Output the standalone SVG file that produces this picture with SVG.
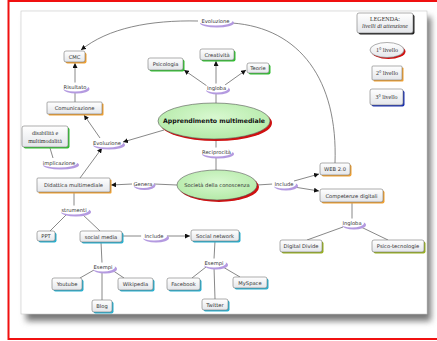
<svg xmlns="http://www.w3.org/2000/svg" width="437" height="341" viewBox="0 0 437 341">
<defs>
<filter id="blur" x="-10%" y="-10%" width="120%" height="130%"><feGaussianBlur stdDeviation="3"/></filter>
<linearGradient id="boxg" x1="0" y1="0" x2="0" y2="1"><stop offset="0" stop-color="#ffffff"/><stop offset="1" stop-color="#e4e6ea"/></linearGradient>
<radialGradient id="ellg" cx="0.5" cy="0.4" r="0.6"><stop offset="0" stop-color="#d8f8d0"/><stop offset="1" stop-color="#b4eaa8"/></radialGradient>
<marker id="arr" viewBox="0 0 10 10" refX="10" refY="5" markerWidth="5" markerHeight="5" markerUnits="userSpaceOnUse" orient="auto"><path d="M0,0 L10,5 L0,10 z" fill="#111"/></marker>
</defs>
<style>
.t{font-family:"DejaVu Sans",sans-serif;font-size:5.2px;fill:#333;text-anchor:middle;dominant-baseline:central}
.s{font-family:"Liberation Serif",serif;font-size:6px;fill:#333;text-anchor:middle;dominant-baseline:central}
.b{font-family:"DejaVu Sans",sans-serif;font-size:6.2px;font-weight:bold;fill:#111;text-anchor:middle;dominant-baseline:central}
.box{fill:url(#boxg);stroke:#777;stroke-width:0.6}
.or{fill:#f0a030}.gr{fill:#30c030}.cy{fill:#28b0d0}.ol{fill:#98b020}.bl{fill:#1a30b0}.bk{fill:#222}.rd{fill:#d01010}
.lw{fill:#fff}.lp{fill:#b49ae0}
#connectors path{fill:none;stroke:#6a6a6a;stroke-width:0.8}
</style>
<rect x="0" y="0" width="437" height="341" fill="#fff"/>
<rect x="8.5" y="1" width="440" height="338" fill="none" stroke="#f01010" stroke-width="2"/>
<rect x="26" y="17" width="405" height="304" fill="#777" filter="url(#blur)"/>
<rect x="21" y="11" width="406" height="303" fill="#fff" stroke="#c8c8c8" stroke-width="0.6"/>

<g id="connectors">
<path d="M198,21 C150,20 108,28 81,50" marker-end="url(#arr)"/>
<path d="M232,23 C300,28 338,80 335,163"/>
<path d="M75,84 L75,63" marker-end="url(#arr)"/>
<path d="M75,102 L75,91"/>
<path d="M100,138 L84,115" marker-end="url(#arr)"/>
<path d="M164,130 L123,142" marker-end="url(#arr)"/>
<path d="M80,178 L102,148" marker-end="url(#arr)"/>
<path d="M50,148 L53,158"/>
<path d="M207,86 L184,70" marker-end="url(#arr)"/>
<path d="M216,84 L216,61" marker-end="url(#arr)"/>
<path d="M225,85 L246,70" marker-end="url(#arr)"/>
<path d="M216,103 L216,92"/>
<path d="M216,139 L216,148"/>
<path d="M216,156 L216,170"/>
<path d="M177,185 L154,184"/>
<path d="M132,184 L111,185" marker-end="url(#arr)"/>
<path d="M257,185 L273,184"/>
<path d="M294,181 L319,174" marker-end="url(#arr)"/>
<path d="M294,187 L319,191" marker-end="url(#arr)"/>
<path d="M352,202 L352,219"/>
<path d="M343,227 L307,240"/>
<path d="M361,227 L388,240"/>
<path d="M74,192 L74,206"/>
<path d="M67,214 L50,231"/>
<path d="M82,214 L100,231"/>
<path d="M122,236 L142,236"/>
<path d="M166,236 L190,236" marker-end="url(#arr)"/>
<path d="M101,242 L102,263"/>
<path d="M94,270 L80,278"/>
<path d="M112,270 L124,278"/>
<path d="M102,271 L102,300"/>
<path d="M215,241 L214,259"/>
<path d="M206,267 L192,278"/>
<path d="M223,267 L240,277"/>
<path d="M214,267 L215,299"/>
</g>

<g id="lbl-evoluzione-top"><ellipse class="lp" cx="217" cy="23" rx="17" ry="4.5"/><ellipse class="lw" cx="215.5" cy="21" rx="17" ry="4.5"/><text class="t" x="215.5" y="21">Evoluzione</text></g>
<g id="lbl-risultato"><ellipse class="lp" cx="76.5" cy="89" rx="13" ry="4.5"/><ellipse class="lw" cx="75" cy="87" rx="13" ry="4.5"/><text class="t" x="75" y="87">Risultato</text></g>
<g id="lbl-ingloba"><ellipse class="lp" cx="218" cy="90" rx="12" ry="4.5"/><ellipse class="lw" cx="216.5" cy="88" rx="12" ry="4.5"/><text class="t" x="216.5" y="88">Ingloba</text></g>
<g id="lbl-evoluzione-mid"><ellipse class="lp" cx="109" cy="145" rx="16" ry="4.5"/><ellipse class="lw" cx="107" cy="143" rx="16" ry="4.5"/><text class="t" x="107" y="143">Evoluzione</text></g>
<g id="lbl-reciprocita"><ellipse class="lp" cx="218" cy="154" rx="16" ry="4.5"/><ellipse class="lw" cx="216.5" cy="152" rx="16" ry="4.5"/><text class="t" x="216.5" y="152">Reciprocità</text></g>
<g id="lbl-genera"><ellipse class="lp" cx="144.5" cy="185.5" rx="11" ry="4.5"/><ellipse class="lw" cx="143" cy="183.5" rx="11" ry="4.5"/><text class="t" x="143" y="183.5">Genera</text></g>
<g id="lbl-implicazione"><ellipse class="lp" cx="61" cy="165" rx="18" ry="4.5"/><ellipse class="lw" cx="59" cy="163" rx="18" ry="4.5"/><text class="t" x="59" y="163">implicazione</text></g>
<g id="lbl-strumenti"><ellipse class="lp" cx="76" cy="212" rx="15" ry="4.5"/><ellipse class="lw" cx="74" cy="210" rx="15" ry="4.5"/><text class="t" x="74" y="210">strumenti</text></g>
<g id="lbl-include-r"><ellipse class="lp" cx="286" cy="186" rx="12" ry="4.5"/><ellipse class="lw" cx="284" cy="184" rx="12" ry="4.5"/><text class="t" x="284" y="184">Include</text></g>
<g id="lbl-include-b"><ellipse class="lp" cx="156" cy="238" rx="13" ry="4.5"/><ellipse class="lw" cx="154" cy="236" rx="13" ry="4.5"/><text class="t" x="154" y="236">Include</text></g>
<g id="lbl-esempi-l"><ellipse class="lp" cx="105" cy="269" rx="12" ry="4.5"/><ellipse class="lw" cx="103" cy="267" rx="12" ry="4.5"/><text class="t" x="103" y="267">Esempi</text></g>
<g id="lbl-esempi-r"><ellipse class="lp" cx="216" cy="265" rx="12" ry="4.5"/><ellipse class="lw" cx="214" cy="263" rx="12" ry="4.5"/><text class="t" x="214" y="263">Esempi</text></g>
<g id="lbl-ingloba-r"><ellipse class="lp" cx="354" cy="225" rx="12" ry="4.5"/><ellipse class="lw" cx="352" cy="223" rx="12" ry="4.5"/><text class="t" x="352" y="223">Ingloba</text></g>

<g id="n-apprendimento"><ellipse class="rd" cx="216" cy="123" rx="56" ry="18"/><ellipse cx="214" cy="121" rx="56" ry="18" fill="url(#ellg)" stroke="#555" stroke-width="0.6"/><text class="b" x="214" y="120">Apprendimento multimediale</text></g>
<g id="n-societa"><ellipse class="rd" cx="219" cy="187" rx="40" ry="15"/><ellipse cx="217" cy="185" rx="40" ry="15" fill="url(#ellg)" stroke="#555" stroke-width="0.6"/><text class="t" x="217" y="185">Società della conoscenza</text></g>

<g id="n-cmc"><rect class="or" x="65.5" y="52.5" width="21" height="11" rx="2"/><rect class="box" x="64" y="51" width="21" height="11" rx="2"/><text class="t" x="74.5" y="56.5">CMC</text></g>
<g id="n-comunicazione"><rect class="or" x="48.5" y="103.5" width="55" height="12" rx="1"/><rect class="box" x="47" y="102" width="55" height="12" rx="1"/><text class="t" x="74.5" y="108">Comunicazione</text></g>
<g id="n-didattica"><rect class="or" x="38.5" y="179.5" width="73" height="14" rx="1"/><rect class="box" x="37" y="178" width="73" height="14" rx="1"/><text class="t" x="73.5" y="185">Didattica multimediale</text></g>
<g id="n-web"><rect class="or" x="321.5" y="164.5" width="30" height="12" rx="2"/><rect class="box" x="320" y="163" width="30" height="12" rx="2"/><text class="t" x="335" y="169">WEB 2.0</text></g>
<g id="n-competenze"><rect class="or" x="321.5" y="190.5" width="63" height="13" rx="2"/><rect class="box" x="320" y="189" width="63" height="13" rx="2"/><text class="t" x="351.5" y="195.5">Competenze digitali</text></g>
<g id="n-psicologia"><rect class="gr" x="149.5" y="59.5" width="35" height="12" rx="2"/><rect class="box" x="148" y="58" width="35" height="12" rx="2"/><text class="t" x="165.5" y="64">Psicologia</text></g>
<g id="n-creativita"><rect class="gr" x="201.5" y="50.5" width="34" height="11" rx="2"/><rect class="box" x="200" y="49" width="34" height="11" rx="2"/><text class="t" x="217" y="54.5">Creatività</text></g>
<g id="n-teorie"><rect class="gr" x="248.5" y="64.5" width="22" height="10" rx="2"/><rect class="box" x="247" y="63" width="22" height="10" rx="2"/><text class="t" x="258" y="68">Teorie</text></g>
<g id="n-disabilita"><rect class="gr" x="23.5" y="127.5" width="46" height="21" rx="2"/><rect class="box" x="22" y="126" width="46" height="21" rx="2"/><text class="s" x="45" y="133">disabilità e</text><text class="s" x="45" y="140.5">multimodalità</text></g>
<g id="n-digital"><rect class="ol" x="281.5" y="241.5" width="42" height="12" rx="2"/><rect class="box" x="280" y="240" width="42" height="12" rx="2"/><text class="t" x="301" y="246">Digital Divide</text></g>
<g id="n-psicotec"><rect class="ol" x="373.5" y="241.5" width="52" height="12" rx="2"/><rect class="box" x="372" y="240" width="52" height="12" rx="2"/><text class="t" x="398" y="246">Psico-tecnologie</text></g>
<g id="n-ppt"><rect class="cy" x="38.5" y="232.5" width="18" height="10" rx="2"/><rect class="box" x="37" y="231" width="18" height="10" rx="2"/><text class="t" x="46" y="236">PPT</text></g>
<g id="n-socialmedia"><rect class="cy" x="81.5" y="232.5" width="42" height="11" rx="2"/><rect class="box" x="80" y="231" width="42" height="11" rx="2"/><text class="t" x="101" y="236.5">social media</text></g>
<g id="n-socialnetwork"><rect class="cy" x="192.5" y="231.5" width="48" height="11" rx="2"/><rect class="box" x="191" y="230" width="48" height="11" rx="2"/><text class="t" x="215" y="235.5">Social network</text></g>
<g id="n-youtube"><rect class="cy" x="53.5" y="279.5" width="30" height="12" rx="2"/><rect class="box" x="52" y="278" width="30" height="12" rx="2"/><text class="t" x="67" y="284">Youtube</text></g>
<g id="n-wikipedia"><rect class="cy" x="119.5" y="279.5" width="35" height="12" rx="2"/><rect class="box" x="118" y="278" width="35" height="12" rx="2"/><text class="t" x="135.5" y="284">Wikipedia</text></g>
<g id="n-blog"><rect class="cy" x="93.5" y="301.5" width="20" height="12" rx="2"/><rect class="box" x="92" y="300" width="20" height="12" rx="2"/><text class="t" x="102" y="306">Blog</text></g>
<g id="n-facebook"><rect class="cy" x="168.5" y="279.5" width="33" height="12" rx="2"/><rect class="box" x="167" y="278" width="33" height="12" rx="2"/><text class="t" x="183.5" y="284">Facebook</text></g>
<g id="n-twitter"><rect class="cy" x="203.5" y="300.5" width="26" height="11" rx="2"/><rect class="box" x="202" y="299" width="26" height="11" rx="2"/><text class="t" x="215" y="304.5">Twitter</text></g>
<g id="n-myspace"><rect class="cy" x="234.5" y="278.5" width="34" height="11" rx="2"/><rect class="box" x="233" y="277" width="34" height="11" rx="2"/><text class="t" x="250" y="282.5">MySpace</text></g>

<g id="legend-title"><rect class="bk" x="358.5" y="14.5" width="56" height="20" rx="2"/><rect class="box" x="357" y="13" width="56" height="20" rx="2"/><text class="s" x="385" y="18.5">LEGENDA:</text><text class="s" x="385" y="26" font-style="italic">livelli di attenzione</text></g>
<g id="legend-1"><ellipse class="rd" cx="388.5" cy="51.5" rx="17" ry="7.5"/><ellipse cx="387" cy="50" rx="17" ry="7.5" fill="url(#boxg)" stroke="#777" stroke-width="0.6"/><text class="s" x="387" y="50">1° livello</text></g>
<g id="legend-2"><rect class="or" x="373.5" y="67.5" width="30" height="14" rx="1"/><rect class="box" x="372" y="66" width="30" height="14" rx="1"/><text class="s" x="387" y="73">2° livello</text></g>
<g id="legend-3"><rect class="bl" x="371.5" y="90.5" width="33" height="16" rx="2"/><rect class="box" x="370" y="89" width="33" height="16" rx="2"/><text class="s" x="386.5" y="97">3° livello</text></g>
</svg>
